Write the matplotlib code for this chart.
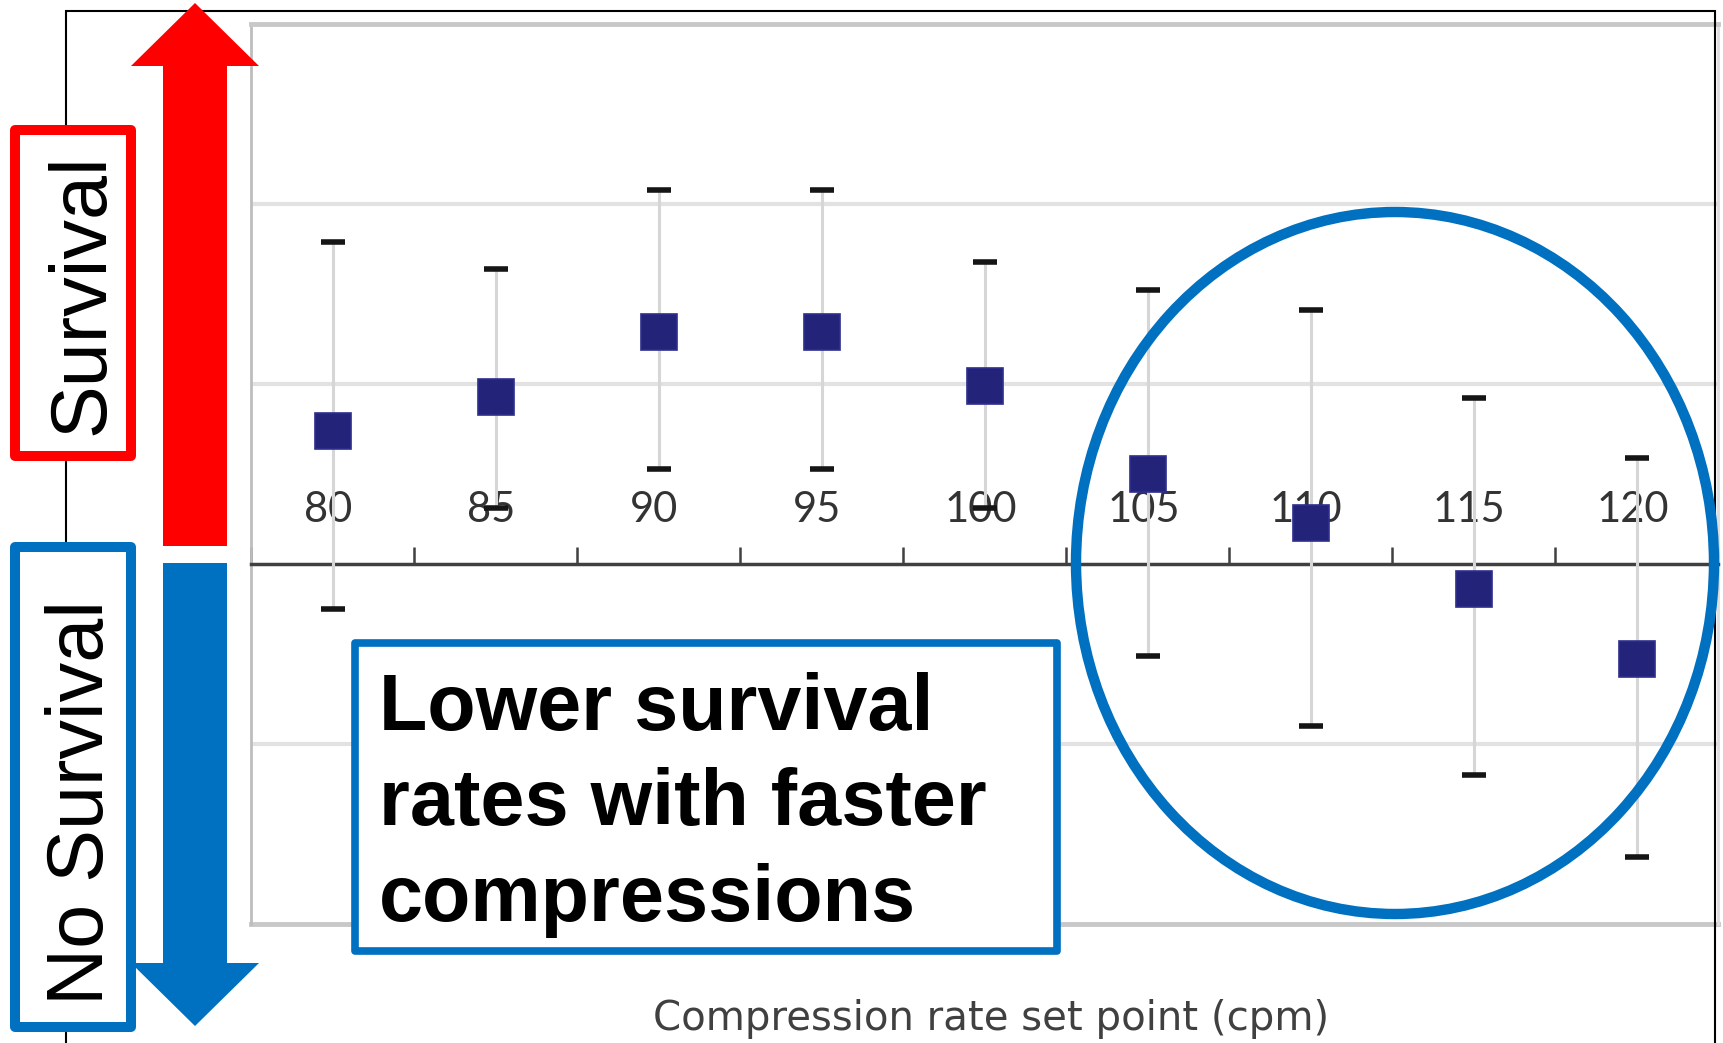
import numpy as np
import matplotlib
matplotlib.use('Agg')
import matplotlib.pyplot as plt
from matplotlib.patches import Polygon, Rectangle, Ellipse

# compression rate set points and the estimate with its interval at each one
rates = [80, 85, 90, 95, 100, 105, 110, 115, 120]
estimate = [0.74, 0.93, 1.29, 1.29, 0.99, 0.50, 0.23, -0.14, -0.53]
upper = [1.79, 1.64, 2.08, 2.08, 1.68, 1.52, 1.41, 0.92, 0.59]
lower = [-0.25, 0.31, 0.53, 0.53, 0.31, -0.51, -0.90, -1.17, -1.63]

W, H = 1723, 1043
fig = plt.figure(figsize=(W / 100, H / 100), dpi=100)


def px(x, y):
    # pixel position (from top left) -> figure fraction
    return (x / W, 1 - y / H)


ax = fig.add_axes([251 / W, 1 - 924 / H, (1718 - 251) / W, (924 - 24) / H])
xpos = np.arange(len(rates))
est = np.array(estimate)
err = [est - np.array(lower), np.array(upper) - est]

eb = ax.errorbar(xpos, est, yerr=err, fmt='s', ms=26, mfc='#23237a', mec='#2e2e8e', mew=1.2,
                 ecolor='#d6d6d6', elinewidth=2.2, capsize=8.5, capthick=4, zorder=4)
for cap in eb[1]:
    cap.set_markeredgecolor('#151515')
    cap.set_markeredgewidth(4)

ax.set_xlim(-0.5, len(rates) - 0.5)
ax.set_ylim(-2, 3)

# category labels sit above the zero line
for xi, r in zip(xpos, rates):
    ax.annotate(str(r), (xi, 0), xytext=(-3, 30.5), textcoords='offset points',
                ha='center', va='baseline', fontsize=30, family='Lato', color='#333333', zorder=2)

ax.set_xticks(np.arange(-0.5, len(rates), 1))
ax.tick_params(axis='x', direction='in', length=12, width=1.8, color='#404040', labelbottom=False)
ax.set_yticks([-1, 1, 2])
ax.tick_params(axis='y', left=False, labelleft=False)
ax.grid(axis='y', color='#e2e2e2', lw=3)

ax.spines['bottom'].set_position(('data', 0))
ax.spines['bottom'].set_color('#404040')
ax.spines['bottom'].set_linewidth(2.5)
ax.spines['bottom'].set_zorder(3)
ax.spines['top'].set_color('#c8c8c8')
ax.spines['top'].set_linewidth(3.5)
ax.spines['left'].set_color('#bdbdbd')
ax.spines['left'].set_linewidth(2)
ax.spines['right'].set_color('#dddddd')
ax.spines['right'].set_linewidth(2)
ax.axhline(-2, color='#c8c8c8', lw=3.5, clip_on=False)

fig.text(*px(991, 1030), 'Compression rate set point (cpm)', ha='center', va='baseline',
         family='DejaVu Sans', size=29, color='#404040')

# outer frame
fig.add_artist(Rectangle(px(66, 1100), (1715 - 66) / W, (1100 - 10.7) / H, transform=fig.transFigure,
                         fill=False, ec='black', lw=1.5, zorder=1))

# survival / no survival arrows
red = '#ff0000'
blue = '#0070c0'
up = [px(163, 546), px(163, 66), px(131, 66), px(195, 3), px(259, 66), px(227, 66), px(227, 546)]
down = [px(163, 563), px(227, 563), px(227, 963), px(259, 963), px(195, 1026), px(131, 963), px(163, 963)]
fig.add_artist(Polygon(up, closed=True, transform=fig.transFigure, fc=red, ec='none', zorder=2))
fig.add_artist(Polygon(down, closed=True, transform=fig.transFigure, fc=blue, ec='none', zorder=2))

fig.add_artist(Rectangle(px(14.6, 456), (131 - 14.6) / W, (456 - 130.5) / H, transform=fig.transFigure,
                         fc='white', ec=red, lw=7.2, joinstyle='round', zorder=3))
fig.add_artist(Rectangle(px(14.6, 1026.5), (131 - 14.6) / W, (1026.5 - 546.5) / H, transform=fig.transFigure,
                         fc='white', ec=blue, lw=7.2, joinstyle='round', zorder=3))
fig.text(*px(103, 294.5), 'Survival', rotation=90, rotation_mode='anchor', ha='center', va='baseline',
         family='Liberation Sans', size=57, zorder=4)
fig.text(*px(103, 803), 'No Survival', rotation=90, rotation_mode='anchor', ha='center', va='baseline',
         family='Liberation Sans', size=57, zorder=4)

# callout box
fig.add_artist(Rectangle(px(355, 951), (1057 - 355) / W, (951 - 643) / H, transform=fig.transFigure,
                         fc='white', ec=blue, lw=5.5, joinstyle='round', zorder=3))
for line, base in zip(['Lower survival', 'rates with faster', 'compressions'], [730, 825.5, 921]):
    fig.text(*px(379, base), line, ha='left', va='baseline', family='Liberation Sans',
             weight='bold', size=57, zorder=4)

# highlight of the fastest rates
fig.add_artist(Ellipse(px(1395, 563), 638 / W, 702 / H, transform=fig.transFigure,
                       fill=False, ec=blue, lw=7.5, zorder=3))

fig.savefig('out.png', dpi=100)
